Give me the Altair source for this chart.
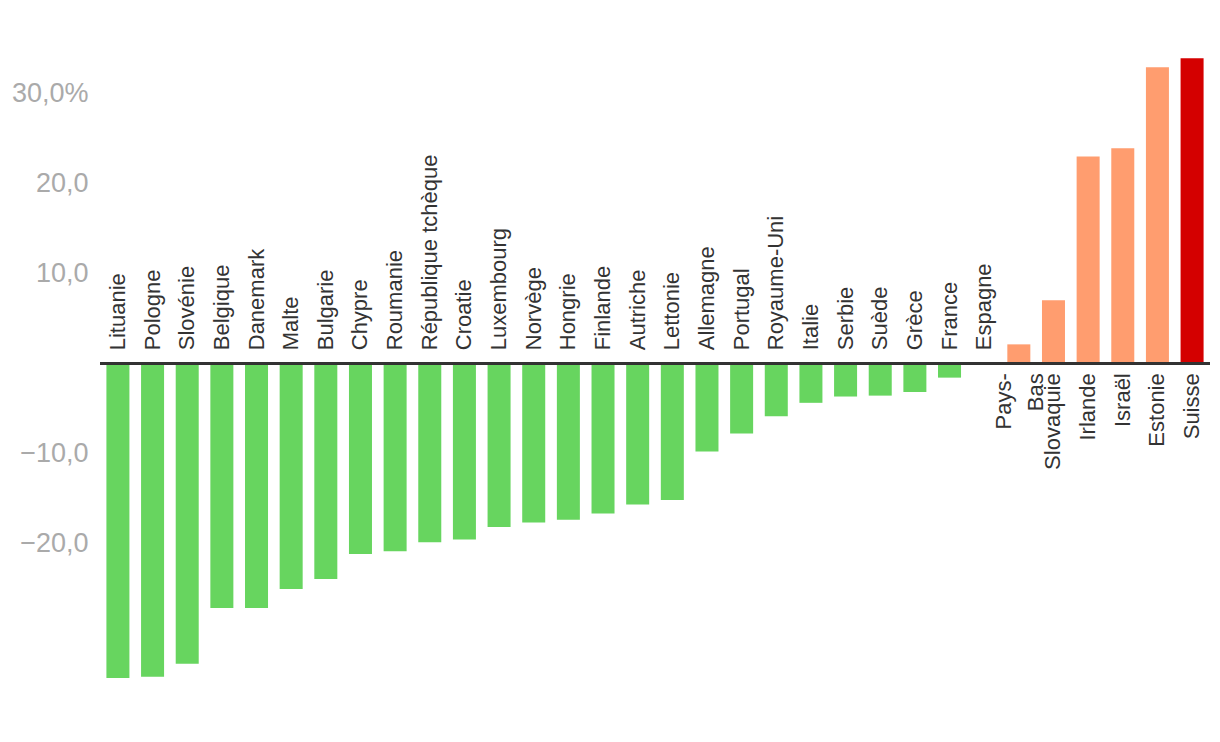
import altair as alt
import pandas as pd

pays = ["Lituanie", "Pologne", "Slovénie", "Belgique", "Danemark", "Malte", "Bulgarie",
        "Chypre", "Roumanie", "République tchèque", "Croatie", "Luxembourg", "Norvège",
        "Hongrie", "Finlande", "Autriche", "Lettonie", "Allemagne", "Portugal",
        "Royaume-Uni", "Italie", "Serbie", "Suède", "Grèce", "France", "Espagne",
        "Pays-Bas", "Slovaquie", "Irlande", "Israël", "Estonie", "Suisse"]
valeurs = [-35.0, -34.85, -33.4, -27.2, -27.2, -25.1, -24.0,
           -21.2, -20.9, -19.9, -19.6, -18.2, -17.7,
           -17.4, -16.7, -15.7, -15.2, -9.8, -7.8,
           -5.9, -4.4, -3.7, -3.6, -3.2, -1.6, 0.0,
           2.1, 7.0, 23.0, 23.9, 32.9, 33.9]
groupes = ["baisse"] * 26 + ["hausse"] * 5 + ["suisse"]
tick_values = [-20, -10, 10, 20, 30]

df = pd.DataFrame({"pays": pays, "valeur": valeurs, "groupe": groupes})

FONT = "Liberation Sans"

x = alt.X("pays:N", sort=pays, axis=None,
          scale=alt.Scale(paddingInner=0.336, paddingOuter=0.185))
y_scale = alt.Scale(domain=[-39, 39.5], nice=False, zero=False)

bars = alt.Chart(df).mark_bar().encode(
    x=x,
    y=alt.Y("valeur:Q", scale=y_scale, title=None,
            axis=alt.Axis(values=tick_values, grid=False, domain=False, ticks=False,
                          labelColor="#aaaaaa", labelFontSize=27, labelFont=FONT,
                          labelPadding=12, minExtent=92, maxExtent=92,
                          labelExpr="datum.value == 30 ? '30,0%' : replace(replace(format(datum.value, '.1f'), '.', ','), '-', '\u2212')")),
    y2=alt.datum(0),
    color=alt.Color("groupe:N", legend=None,
                    scale=alt.Scale(domain=["baisse", "hausse", "suisse"],
                                    range=["#67d55f", "#ff9d6f", "#d40000"])),
)

zero = alt.Chart(df).mark_rule(color="#333333", strokeWidth=2).encode(
    y=alt.datum(0), x=alt.value(0), x2=alt.value(1110)
)

lbl_neg = alt.Chart(df).transform_filter("datum.valeur <= 0").mark_text(
    angle=270, align="left", baseline="middle", dx=13, font=FONT, fontSize=22,
    color="#333333"
).encode(x=x, y=alt.datum(0), text="pays:N")

lbl_pos = alt.Chart(df).transform_filter(
    "datum.valeur > 0 && datum.pays != 'Pays-Bas'"
).mark_text(
    angle=270, align="right", baseline="middle", dx=-10, font=FONT, fontSize=22,
    color="#333333"
).encode(x=x, y=alt.datum(0), text="pays:N")

lbl_pb = alt.Chart(df).transform_filter("datum.pays == 'Pays-Bas'").transform_calculate(
    label="['Pays-', 'Bas']"
).mark_text(
    angle=270, align="right", baseline="middle", dx=-10, dy=-15, font=FONT, fontSize=22,
    color="#333333", lineHeight=32
).encode(x=x, y=alt.datum(0), text="label:N")

chart = alt.layer(bars, zero, lbl_neg, lbl_pos, lbl_pb).properties(
    width=1110, height=706,
    padding={"left": 0, "top": 0, "right": 0, "bottom": 0},
).configure(background="white").configure_view(stroke=None)

chart.save("out.html", embed_options={"renderer": "svg", "actions": False})
